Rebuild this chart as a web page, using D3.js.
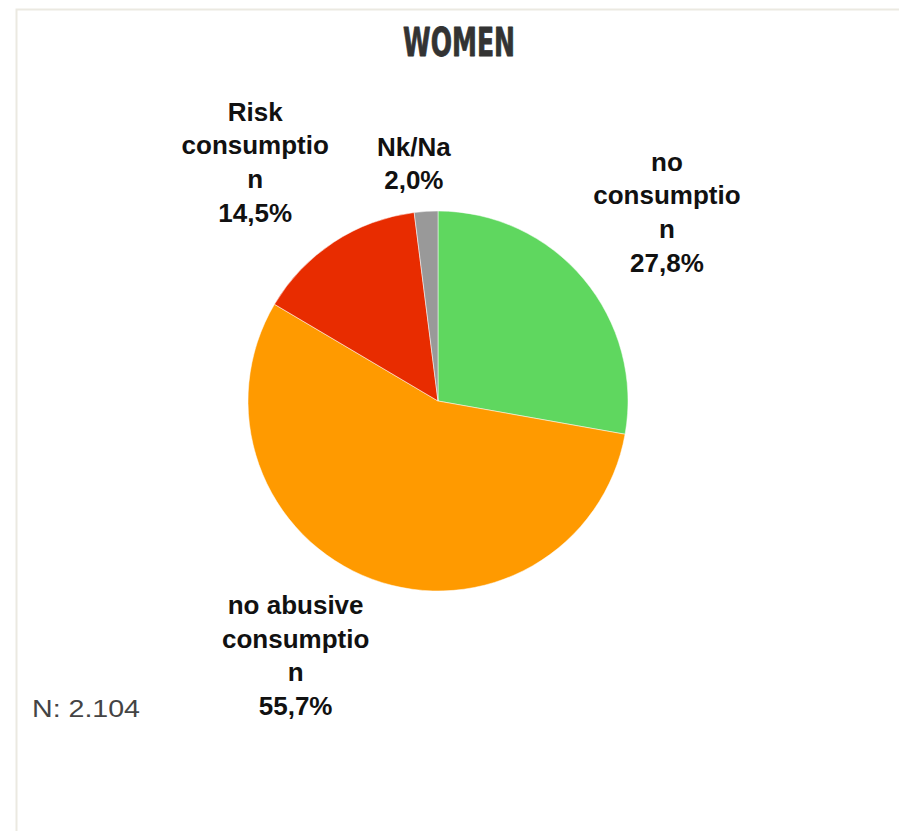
<!DOCTYPE html>
<html>
<head>
<meta charset="utf-8">
<script src="https://cdn.jsdelivr.net/npm/d3@7"></script>
<style>
  html, body { margin: 0; padding: 0; background: #ffffff; }
  svg { display: block; }
</style>
</head>
<body>
<svg id="chart" width="899" height="831"></svg>
<script>
// ---- data ----
const categories = ["no consumption", "no abusive consumption", "Risk consumption", "Nk/Na"];
const values = [27.8, 55.7, 14.5, 2.0];
const colors = ["#5fd75f", "#ff9a00", "#e82c00", "#999999"];
const title = "WOMEN";
const note = "N: 2.104";

// ---- layout ----
const W = 899, H = 831;
const cx = 438, cy = 401, R = 190;
// label placement: radial factor and angular nudge (degrees) per slice
const labelRadius = [1.563, 1.534, 1.584, 1.258];
const labelShift = [0.4, 8.9, -4.1, -2.2];
const lineH = 33.7;
const fmt = v => v.toFixed(1).replace(".", ",") + "%";

const svg = d3.select("#chart");

// frame
svg.append("rect")
  .attr("x", 16.5).attr("y", 9.5)
  .attr("width", W).attr("height", H)
  .attr("fill", "none")
  .attr("stroke", "#ebe9e1")
  .attr("stroke-width", 2);

// title
svg.append("text")
  .attr("x", 459).attr("y", 56)
  .attr("text-anchor", "middle")
  .attr("font-family", "'Liberation Sans Narrow', 'DejaVu Sans Condensed', sans-serif")
  .attr("font-weight", "bold")
  .attr("font-size", 39)
  .attr("textLength", 112)
  .attr("lengthAdjust", "spacingAndGlyphs")
  .attr("fill", "#333333")
  .attr("stroke", "#333333")
  .attr("stroke-width", 0.8)
  .attr("stroke-linejoin", "round")
  .text(title);

// pie
const pie = d3.pie().sort(null).value(d => d)(values);
const arc = d3.arc().innerRadius(0).outerRadius(R);
const g = svg.append("g").attr("transform", `translate(${cx},${cy})`);
g.selectAll("path")
  .data(pie)
  .join("path")
  .attr("d", arc)
  .attr("fill", (d, i) => colors[i])
  .attr("stroke", "#ffffff")
  .attr("stroke-width", 0.5);

// wrap like the source (max 10 chars/line, hard-break long words)
function wrap(str, max) {
  const words = str.split(" ");
  const lines = [];
  let cur = "";
  words.forEach(w => {
    const test = cur ? cur + " " + w : w;
    if (test.length <= max) { cur = test; }
    else {
      if (cur) lines.push(cur);
      cur = w;
      while (cur.length > max) { lines.push(cur.slice(0, max)); cur = cur.slice(max); }
    }
  });
  if (cur) lines.push(cur);
  return lines;
}

pie.forEach((d, i) => {
  const mid = (d.startAngle + d.endAngle) / 2 + labelShift[i] * Math.PI / 180;
  const dist = labelRadius[i] * R;
  const lx = Math.sin(mid) * dist;
  const ly = -Math.cos(mid) * dist;
  const lines = wrap(categories[i], 10).concat([fmt(values[i])]);
  const capMid = 9.3;
  const firstBase = ly - (lines.length - 1) * lineH / 2 + capMid;
  const t = g.append("text")
    .attr("text-anchor", "middle")
    .attr("font-family", "'Liberation Sans', Arial, sans-serif")
    .attr("font-weight", "bold")
    .attr("font-size", 26)
    .attr("fill", "#111111");
  lines.forEach((ln, k) => {
    t.append("tspan").attr("x", lx).attr("y", firstBase + k * lineH).text(ln);
  });
});

// note
svg.append("text")
  .attr("x", 32).attr("y", 717)
  .attr("font-family", "'Liberation Sans', Arial, sans-serif")
  .attr("font-size", 23)
  .attr("textLength", 108)
  .attr("lengthAdjust", "spacingAndGlyphs")
  .attr("fill", "#444444")
  .text(note);
</script>
</body>
</html>
